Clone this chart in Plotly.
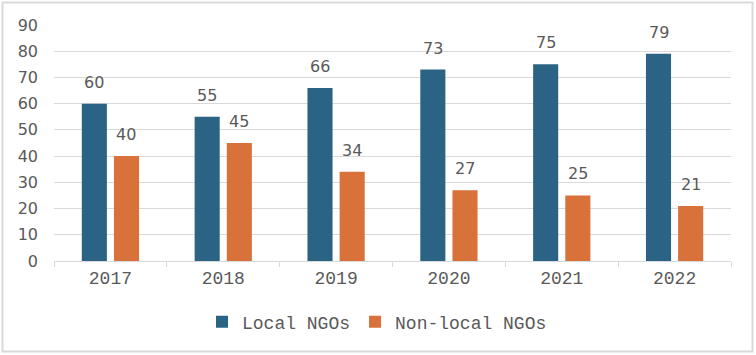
import plotly.graph_objects as go

years = ["2017", "2018", "2019", "2020", "2021", "2022"]
local_ngos = [60, 55, 66, 73, 75, 79]
non_local_ngos = [40, 45, 34, 27, 25, 21]
series_names = ["Local NGOs", "Non-local NGOs"]
y_ticks = [0, 10, 20, 30, 40, 50, 60, 70, 80, 90]

c_local = "#2a6384"
c_non = "#d9713b"
txt = "#595959"
grid = "#d9d9d9"
mono = "Courier New, Courier, Nimbus Mono PS, FreeMono, Liberation Mono, monospace"

L, R, T, B = 54, 25, 25, 94
W, H = 756, 355
pw, ph = W - L - R, H - T - B
bargap, groupgap = 0.43, 0.22
cat_w = pw / len(years)
slot_shift = cat_w * (1 - bargap) / 4

fig = go.Figure()
for name, vals, col in [(series_names[0], local_ngos, c_local),
                        (series_names[1], non_local_ngos, c_non)]:
    fig.add_trace(go.Bar(
        x=years, y=vals, name=name,
        marker=dict(color=col, line=dict(width=0)),
    ))

annotations = []
for sign, vals in [(-1, local_ngos), (1, non_local_ngos)]:
    for i, v in enumerate(vals):
        annotations.append(dict(
            x=i, y=v, xref="x", yref="y", text=str(v), showarrow=False,
            xanchor="center", yanchor="bottom", xshift=sign * slot_shift, yshift=10,
            font=dict(family="DejaVu Sans", size=16, color=txt),
        ))

fig.update_layout(
    width=W, height=H,
    margin=dict(l=L, r=R, t=T, b=B, pad=0, autoexpand=False),
    paper_bgcolor="white", plot_bgcolor="white",
    barmode="group", bargap=bargap, bargroupgap=groupgap,
    showlegend=True,
    legend=dict(
        orientation="h", x=(377 - L) / pw, xanchor="center",
        y=(261 - 322) / ph, yanchor="middle",
        font=dict(family=mono, size=18, color=txt),
        itemwidth=30, tracegroupgap=0, bgcolor="rgba(0,0,0,0)",
    ),
    xaxis=dict(
        type="category", showgrid=False, showline=True, linecolor=grid, linewidth=1,
        ticks="outside", tickson="boundaries", ticklen=5, tickcolor=grid,
        tickfont=dict(family=mono, size=18, color=txt),
        range=[-0.5, len(years) - 0.5],
        automargin=False, fixedrange=True,
    ),
    yaxis=dict(
        range=[0, 90], tickvals=y_ticks, showgrid=True, gridcolor=grid, gridwidth=1,
        zeroline=False, showline=False, ticks="",
        tickfont=dict(family="DejaVu Sans", size=16, color=txt),
        ticklabelstandoff=15, automargin=False,
        fixedrange=True,
    ),
    annotations=annotations,
    shapes=[dict(
        type="rect", xref="paper", yref="paper",
        x0=(2.5 - L) / pw, x1=(752.5 - L) / pw,
        y0=(H - B - 351.5) / ph, y1=(H - B - 2.5) / ph,
        line=dict(color=grid, width=2), fillcolor="rgba(0,0,0,0)", layer="below",
    )],
)

fig.write_html(
    "out.html",
    config={"displayModeBar": False},
    post_script="document.body.style.margin='0';document.body.style.overflow='hidden';",
)
